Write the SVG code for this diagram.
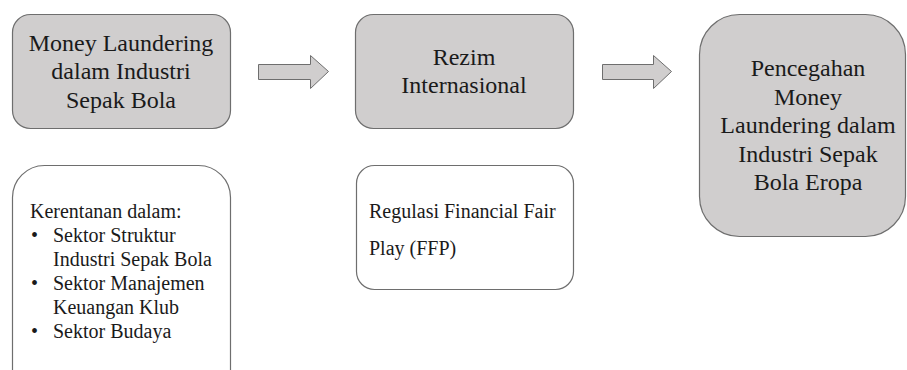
<svg xmlns="http://www.w3.org/2000/svg" width="907" height="370" viewBox="0 0 907 370">
<style>
.g{fill:#d0cece;stroke:#6e6e6e;stroke-width:1.2}
.w{fill:#ffffff;stroke:#6e6e6e;stroke-width:1.2}
text{font-family:'Liberation Serif','Times New Roman','DejaVu Serif',serif;fill:#1a1a1a}
.c{text-anchor:middle;font-size:24px}
.s{font-size:20px}
.a{fill:#d0cece;stroke:#6e6e6e;stroke-width:1}
</style>
<rect width="907" height="370" fill="#ffffff"/>
<g id="node-ml" font-family="Liberation Serif, serif">
<rect class="g" x="12.5" y="14.5" width="218" height="114" rx="18"/>
<text class="c" x="121" y="51">Money Laundering</text>
<text class="c" x="121" y="79">dalam Industri</text>
<text class="c" x="121" y="108">Sepak Bola</text>
</g>
<g id="node-rezim" font-family="Liberation Serif, serif">
<rect class="g" x="355.5" y="14.5" width="218" height="114" rx="18"/>
<text class="c" x="464" y="65">Rezim</text>
<text class="c" x="464" y="93">Internasional</text>
</g>
<g id="node-pencegahan" font-family="Liberation Serif, serif">
<rect class="g" x="699.5" y="14.5" width="206" height="222" rx="40"/>
<text class="c" x="808" y="76">Pencegahan</text>
<text class="c" x="808" y="105">Money</text>
<text class="c" x="808" y="133">Laundering dalam</text>
<text class="c" x="808" y="162">Industri Sepak</text>
<text class="c" x="808" y="190">Bola Eropa</text>
</g>
<g id="node-kerentanan" font-family="Liberation Serif, serif">
<rect class="w" x="12.5" y="165.5" width="218" height="240" rx="32"/>
<text class="s" x="30" y="218">Kerentanan dalam:</text>
<text class="s" x="31" y="242">•</text>
<text class="s" x="53" y="242">Sektor Struktur</text>
<text class="s" x="53" y="266">Industri Sepak Bola</text>
<text class="s" x="31" y="290">•</text>
<text class="s" x="53" y="290">Sektor Manajemen</text>
<text class="s" x="53" y="314">Keuangan Klub</text>
<text class="s" x="31" y="338">•</text>
<text class="s" x="53" y="338">Sektor Budaya</text>
</g>
<g id="node-ffp" font-family="Liberation Serif, serif">
<rect class="w" x="356.5" y="165.5" width="217" height="124" rx="18"/>
<text class="s" x="369" y="218">Regulasi Financial Fair</text>
<text class="s" x="369" y="255">Play (FFP)</text>
</g>
<g id="connectors">
<path class="a" d="M258.5,64.5 H310.5 V55.5 L328.5,71.5 L310.5,88.5 V79.5 H258.5 Z"/>
<path class="a" d="M602.5,64.5 H653.5 V55.5 L671.5,71.5 L653.5,88.5 V79.5 H602.5 Z"/>
</g>
</svg>
